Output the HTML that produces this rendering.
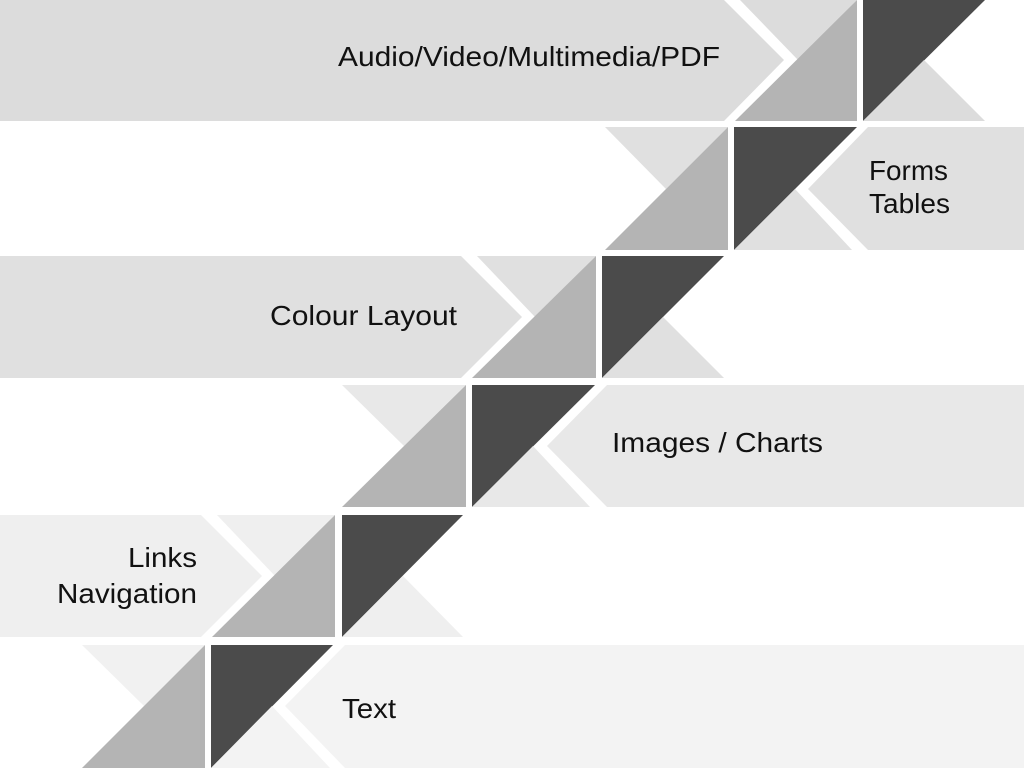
<!DOCTYPE html>
<html><head><meta charset="utf-8"><style>
html,body{margin:0;padding:0;background:#fff;}
svg{display:block;}
text{font-family:"Liberation Sans",Arial,sans-serif;font-size:28px;fill:#111;}
</style></head><body>
<svg width="1024" height="768" viewBox="0 0 1024 768" xmlns="http://www.w3.org/2000/svg">
<polygon points="0,0 724,0 784,60 724,121 0,121" fill="#dcdcdc"/>
<polygon points="740,0 857,0 798,60" fill="#dcdcdc"/>
<polygon points="735,121 857,0 857,121" fill="#b4b4b4"/>
<polygon points="863,0 985,0 863,121" fill="#4b4b4b"/>
<polygon points="863,121 924,60 985,121" fill="#dcdcdc"/>
<text x="338" y="66" textLength="382" lengthAdjust="spacingAndGlyphs">Audio/Video/Multimedia/PDF</text>

<polygon points="605,127 728,127 666,189" fill="#e0e0e0"/>
<polygon points="605,250 728,127 728,250" fill="#b4b4b4"/>
<polygon points="734,127 857,127 734,250" fill="#4b4b4b"/>
<polygon points="734,250 795,189 852,250" fill="#e0e0e0"/>
<polygon points="868,127 1024,127 1024,250 868,250 808,189" fill="#e0e0e0"/>
<text x="869" y="180" textLength="79" lengthAdjust="spacingAndGlyphs">Forms</text>
<text x="869" y="213" textLength="81" lengthAdjust="spacingAndGlyphs">Tables</text>

<polygon points="0,256 461,256 522,317 461,378 0,378" fill="#e0e0e0"/>
<polygon points="477,256 596,256 535,317" fill="#e0e0e0"/>
<polygon points="472,378 596,256 596,378" fill="#b4b4b4"/>
<polygon points="602,256 724,256 602,378" fill="#4b4b4b"/>
<polygon points="602,378 663,317 724,378" fill="#e0e0e0"/>
<text x="270" y="325" textLength="187" lengthAdjust="spacingAndGlyphs">Colour Layout</text>

<polygon points="342,385 466,385 404,446" fill="#e8e8e8"/>
<polygon points="342,507 466,385 466,507" fill="#b4b4b4"/>
<polygon points="472,385 595,385 472,507" fill="#4b4b4b"/>
<polygon points="472,507 533,446 590,507" fill="#e8e8e8"/>
<polygon points="607,385 1024,385 1024,507 607,507 547,446" fill="#e8e8e8"/>
<text x="612" y="452" textLength="211" lengthAdjust="spacingAndGlyphs">Images / Charts</text>

<polygon points="0,515 201,515 262,576 201,637 0,637" fill="#efefef"/>
<polygon points="217,515 335,515 275,576" fill="#efefef"/>
<polygon points="212,637 335,515 335,637" fill="#b4b4b4"/>
<polygon points="342,515 463,515 342,637" fill="#4b4b4b"/>
<polygon points="342,637 403,576 463,637" fill="#efefef"/>
<text x="128" y="567" textLength="69" lengthAdjust="spacingAndGlyphs">Links</text>
<text x="57" y="603" textLength="140" lengthAdjust="spacingAndGlyphs">Navigation</text>

<polygon points="82,645 205,645 144,706" fill="#f1f1f1"/>
<polygon points="82,768 205,645 205,768" fill="#b4b4b4"/>
<polygon points="211,645 333,645 211,768" fill="#4b4b4b"/>
<polygon points="211,768 272,706 330,768" fill="#f3f3f3"/>
<polygon points="345,645 1024,645 1024,768 345,768 285,706" fill="#f3f3f3"/>
<text x="342" y="718" textLength="54" lengthAdjust="spacingAndGlyphs">Text</text>
</svg>
</body></html>
